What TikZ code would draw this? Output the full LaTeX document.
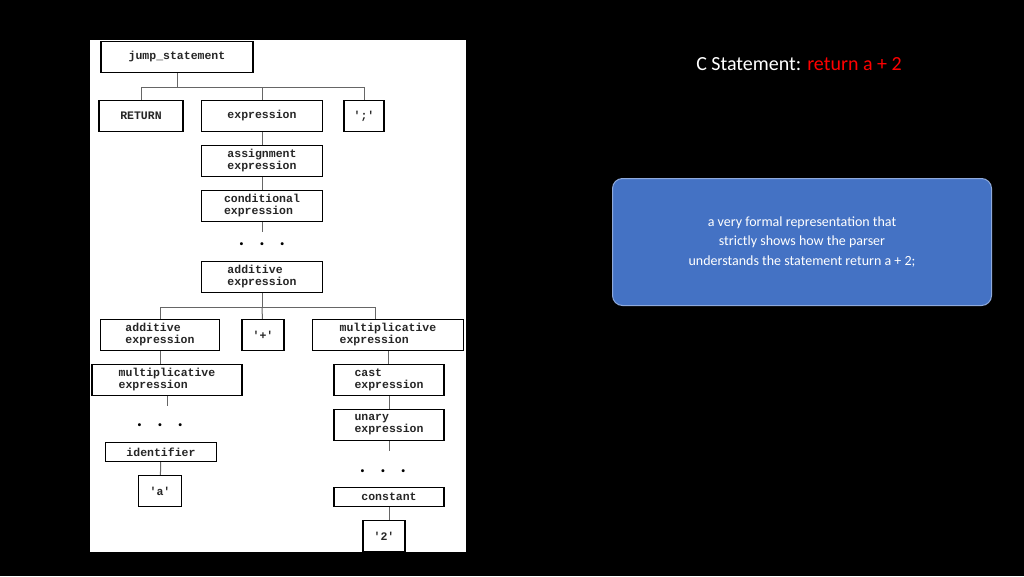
\documentclass[tikz,border=0pt]{standalone}
\usepackage{fontspec}
\setmainfont{Carlito}
\newfontfamily\codefont{Liberation Mono}
\definecolor{boxblue}{HTML}{4472C4}
\definecolor{titlered}{HTML}{FF0000}
\tikzset{
  gram/.style={draw, line width=1.3pt, fill=white, font=\codefont\bfseries\fontsize{11.5}{12}\selectfont,
    align=left, inner sep=0pt, minimum height=31pt, text=black!85},
  branch/.style={draw=black!60, line width=1pt},
  dotsep/.style={font=\bfseries\fontsize{20}{20}\selectfont}
}
\begin{document}
\begin{tikzpicture}[x=1pt,y=-1pt]
\fill[black] (0,0) rectangle (1024,576);
\useasboundingbox (0,0) rectangle (1024,576);
\fill[white] (90,40) rectangle (466,552);
%
\node (jump) at (177,57) [gram, minimum width=152pt, minimum height=31pt] {jump\_statement};
\node (ret) at (141,116) [gram, minimum width=84pt] {RETURN};
\node (expr) at (262,116) [gram, minimum width=121pt] {expression};
\node (semi) at (364,116) [gram, minimum width=40pt] {';'};
\node (assign) at (262,161) [gram, minimum width=121pt] {assignment\\expression};
\node (cond) at (262,206) [gram, minimum width=121pt] {conditional\\expression};
\node (dotsa) at (262,244) [dotsep] {.\hspace{15pt}.\hspace{15pt}.};
\node (add) at (262,277) [gram, minimum width=121pt] {additive\\expression};
%
\node (addl) at (160,335) [gram, minimum width=119pt] {additive\\expression};
\node (plus) at (263,335) [gram, minimum width=42pt] {'+'};
\node (mulr) at (388,335) [gram, minimum width=151pt] {multiplicative\\expression};
%
\node (mull) at (167,380) [gram, minimum width=150pt] {multiplicative\\expression};
\node (dotsb) at (160,425) [dotsep] {.\hspace{15pt}.\hspace{15pt}.};
\node (ident) at (161,452) [gram, minimum width=111pt, minimum height=19pt] {identifier};
\node (avar) at (160,491) [gram, minimum width=43pt] {'a'};
%
\node (cast) at (389,380) [gram, minimum width=110pt] {cast\\expression};
\node (unary) at (389,425) [gram, minimum width=110pt] {unary\\expression};
\node (dotsc) at (383,471) [dotsep] {.\hspace{15pt}.\hspace{15pt}.};
\node (const) at (389,497) [gram, minimum width=110pt, minimum height=19pt] {constant};
\node (two) at (384,536) [gram, minimum width=42pt] {'2'};
%
\coordinate (bar1) at (177,87);
\coordinate (bar2) at (262,307);
\draw[branch] (jump) -- (bar1) -| (ret);
\draw[branch] (bar1) -| (semi);
\draw[branch] (bar1) -| (expr);
\draw[branch] (expr) -- (assign);
\draw[branch] (assign) -- (cond);
\draw[branch] (cond.south) -- ++(0,10);
\draw[branch] (add) -- (bar2) -| (addl);
\draw[branch] (bar2) -- (plus);
\draw[branch] (bar2) -| ([xshift=-13pt]mulr.north);
\draw[branch] (addl.south) -- (addl.south |- mull.north);
\draw[branch] (mull.south) -- ++(0,10);
\draw[branch] (ident) -- (avar);
\draw[branch] (mulr.south) -- (mulr.south |- cast.north);
\draw[branch] (cast) -- (unary);
\draw[branch] (unary.south) -- ++(0,10);
\draw[branch] (const.south) -- (const.south |- two.north);
%
\node (title) at (799,64) [font=\fontsize{20}{24}\selectfont, text=white] {C Statement: \textcolor{titlered}{return a + 2}};
\node (note) at (802,242) [draw=boxblue!60!white, line width=1pt, fill=boxblue, rounded corners=10pt,
  minimum width=379pt, minimum height=127pt, text=white, align=center,
  font=\fontsize{14}{19.5}\selectfont]
  {a very formal representation that\\strictly shows how the parser\\understands the statement return a + 2;};
\end{tikzpicture}
\end{document}
